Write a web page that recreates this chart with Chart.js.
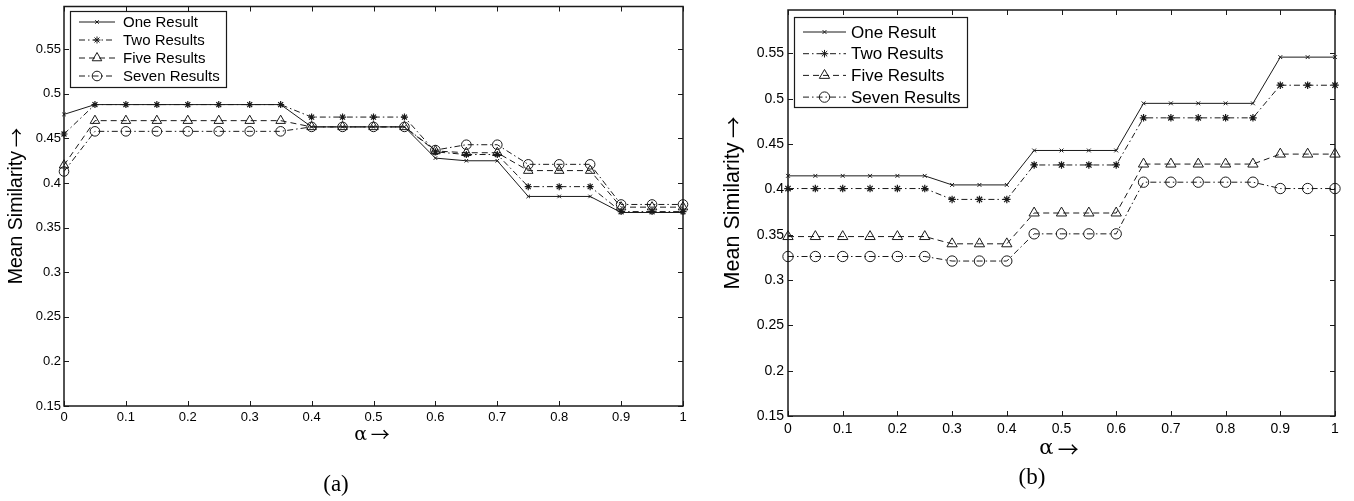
<!DOCTYPE html>
<html>
<head>
<meta charset="utf-8">
<script src="https://cdn.jsdelivr.net/npm/chart.js@4.4.0/dist/chart.umd.min.js"></script>
<style>
  body { margin: 0; background: #fff; width: 1354px; height: 501px; position: relative; overflow: hidden; }
  canvas { position: absolute; top: 0; }
  #chartA { left: 0; }
  #chartB { left: 690px; }
  .cap { position: absolute; font-family: "Liberation Serif", serif; font-size: 23px; line-height: 26px; color: #000; transform: translateX(-50%); }
</style>
</head>
<body>
<canvas id="chartA" width="690" height="501"></canvas>
<canvas id="chartB" width="664" height="501"></canvas>
<div class="cap" style="left:336px; top:471px;">(a)</div>
<div class="cap" style="left:1032px; top:464px;">(b)</div>
<script>
// alpha values on the x axis
const alpha = [0, 0.05, 0.1, 0.15, 0.2, 0.25, 0.3, 0.35, 0.4, 0.45, 0.5, 0.55, 0.6, 0.65, 0.7, 0.75, 0.8, 0.85, 0.9, 0.95, 1];
const seriesNames = ['One Result', 'Two Results', 'Five Results', 'Seven Results'];

// panel (a)
const oneA   = [0.477, 0.488, 0.488, 0.488, 0.488, 0.488, 0.488, 0.488, 0.463, 0.463, 0.463, 0.463, 0.428, 0.425, 0.425, 0.385, 0.385, 0.385, 0.367, 0.367, 0.367];
const twoA   = [0.455, 0.488, 0.488, 0.488, 0.488, 0.488, 0.488, 0.488, 0.474, 0.474, 0.474, 0.474, 0.435, 0.432, 0.432, 0.396, 0.396, 0.396, 0.368, 0.368, 0.368];
const fiveA  = [0.420, 0.470, 0.470, 0.470, 0.470, 0.470, 0.470, 0.470, 0.463, 0.463, 0.463, 0.463, 0.436, 0.434, 0.434, 0.414, 0.414, 0.414, 0.373, 0.373, 0.373];
const sevenA = [0.413, 0.458, 0.458, 0.458, 0.458, 0.458, 0.458, 0.458, 0.463, 0.463, 0.463, 0.463, 0.437, 0.443, 0.443, 0.421, 0.421, 0.421, 0.376, 0.376, 0.376];

// panel (b)
const oneB   = [0.415, 0.415, 0.415, 0.415, 0.415, 0.415, 0.405, 0.405, 0.405, 0.443, 0.443, 0.443, 0.443, 0.495, 0.495, 0.495, 0.495, 0.495, 0.546, 0.546, 0.546];
const twoB   = [0.401, 0.401, 0.401, 0.401, 0.401, 0.401, 0.389, 0.389, 0.389, 0.427, 0.427, 0.427, 0.427, 0.479, 0.479, 0.479, 0.479, 0.479, 0.515, 0.515, 0.515];
const fiveB  = [0.348, 0.348, 0.348, 0.348, 0.348, 0.348, 0.340, 0.340, 0.340, 0.374, 0.374, 0.374, 0.374, 0.428, 0.428, 0.428, 0.428, 0.428, 0.439, 0.439, 0.439];
const sevenB = [0.326, 0.326, 0.326, 0.326, 0.326, 0.326, 0.321, 0.321, 0.321, 0.351, 0.351, 0.351, 0.351, 0.408, 0.408, 0.408, 0.408, 0.408, 0.401, 0.401, 0.401];

// ticks
const xTicks = [0, 0.1, 0.2, 0.3, 0.4, 0.5, 0.6, 0.7, 0.8, 0.9, 1];
const xTickLabels = ['0', '0.1', '0.2', '0.3', '0.4', '0.5', '0.6', '0.7', '0.8', '0.9', '1'];
const yTicks = [0.15, 0.2, 0.25, 0.3, 0.35, 0.4, 0.45, 0.5, 0.55];
const yTickLabels = ['0.15', '0.2', '0.25', '0.3', '0.35', '0.4', '0.45', '0.5', '0.55'];
const yMin = 0.15, yMax = 0.598;
const xTitle = 'α →';
const yTitle = 'Mean Similarity →';

const INK = '#1a1a1a';
const SANS = '"Liberation Sans", Arial, sans-serif';
const ARROW_FONT = '"Noto Sans CJK JP", "DejaVu Sans", sans-serif'; // thin long arrow, close to the TeX one

// line / marker look of each series (matlab-ish)
const looks = [
    { dash: [], point: 'crossRot', r: 2.5, pw: 1 },
    { dash: [6, 3, 1.5, 3], point: 'star', r: 3.5, pw: 1.2 },
    { dash: [6, 4], point: 'triangle', r: 5.5, pw: 1 },
    { dash: [6, 3, 1.5, 3], point: 'circle', r: 4.8, pw: 1 }
];

const toPoints = (vals) => alpha.map((a, i) => ({ x: a, y: vals[i] }));

const makeDatasets = (series, scale) => series.map((vals, i) => ({
    label: seriesNames[i],
    data: toPoints(vals),
    borderColor: INK,
    borderWidth: 1,
    borderDash: looks[i].dash,
    pointStyle: looks[i].point,
    pointRadius: looks[i].r * scale,
    pointBorderWidth: looks[i].pw,
    pointBorderColor: INK,
    pointBackgroundColor: 'rgba(0,0,0,0)',
    tension: 0,
    fill: false,
    clip: false
}));

// box around the axes with inward ticks on all four sides
const boxPlugin = {
    id: 'matBox',
    afterDatasetsDraw(chart) {
        const { ctx, chartArea: a, scales: { x, y } } = chart;
        const t = 5;
        ctx.save();
        ctx.setLineDash([]);
        ctx.strokeStyle = INK;
        ctx.lineWidth = 1;
        ctx.beginPath();
        xTicks.forEach(v => {
            const px = Math.round(x.getPixelForValue(v)) + 0.5;
            ctx.moveTo(px, a.bottom); ctx.lineTo(px, a.bottom - t);
            ctx.moveTo(px, a.top); ctx.lineTo(px, a.top + t);
        });
        yTicks.forEach(v => {
            const py = Math.round(y.getPixelForValue(v)) + 0.5;
            ctx.moveTo(a.left, py); ctx.lineTo(a.left + t, py);
            ctx.moveTo(a.right, py); ctx.lineTo(a.right - t, py);
        });
        ctx.stroke();
        ctx.lineWidth = 1.5;
        ctx.strokeRect(a.left, a.top, a.right - a.left, a.bottom - a.top);
        ctx.restore();
    }
};

// draws "text →" with the arrow in a font that has a long arrow
function drawArrowTitle(ctx, text, font, size, cx, cy, rot) {
    const cut = text.lastIndexOf(' ');
    const word = text.slice(0, cut), arrow = text.slice(cut + 1);
    ctx.save();
    ctx.translate(cx, cy);
    ctx.rotate(rot);
    ctx.fillStyle = '#000';
    ctx.textBaseline = 'middle';
    ctx.textAlign = 'left';
    ctx.font = size + 'px ' + font;
    const w1 = ctx.measureText(word).width;
    const gap = size * 0.2;
    ctx.font = size + 'px ' + ARROW_FONT;
    const w2 = ctx.measureText(arrow).width;
    const x0 = -(w1 + gap + w2) / 2;
    ctx.font = size + 'px ' + font;
    ctx.fillText(word, x0, 0);
    ctx.font = size + 'px ' + ARROW_FONT;
    ctx.fillText(arrow, x0 + w1 + gap, 0);
    ctx.restore();
}

const titlePlugin = {
    id: 'matTitles',
    afterDraw(chart, args, o) {
        const ctx = chart.ctx;
        drawArrowTitle(ctx, xTitle, '"DejaVu Serif", serif', o.xSize, o.xX, o.xY, 0);
        drawArrowTitle(ctx, yTitle, SANS, o.ySize, o.yX, o.yY, -Math.PI / 2);
    }
};

// matlab style legend: line sample with marker in the middle
const legendPlugin = {
    id: 'matLegend',
    afterDraw(chart, args, o) {
        const ctx = chart.ctx;
        ctx.save();
        ctx.fillStyle = '#fff';
        ctx.fillRect(o.x, o.y, o.w, o.h);
        ctx.strokeStyle = INK;
        ctx.lineWidth = 1.2;
        ctx.setLineDash([]);
        ctx.strokeRect(o.x + 0.5, o.y + 0.5, o.w, o.h);
        chart.data.datasets.forEach((ds, i) => {
            const cy = o.y + o.first + i * o.rowH;
            ctx.strokeStyle = INK;
            ctx.lineWidth = 1;
            ctx.setLineDash(ds.borderDash);
            ctx.beginPath();
            ctx.moveTo(o.sx0, cy); ctx.lineTo(o.sx1, cy);
            ctx.stroke();
            ctx.setLineDash([]);
            ctx.fillStyle = ds.pointBackgroundColor;
            Chart.helpers.drawPoint(ctx, {
                pointStyle: ds.pointStyle, radius: ds.pointRadius, rotation: 0, borderWidth: ds.pointBorderWidth
            }, (o.sx0 + o.sx1) / 2, cy);
            ctx.fillStyle = '#000';
            ctx.font = o.font + 'px ' + SANS;
            ctx.textBaseline = 'middle';
            ctx.textAlign = 'left';
            ctx.fillText(ds.label, o.tx, cy + 1);
        });
        ctx.restore();
    }
};

const makeChart = (id, series, g) => new Chart(document.getElementById(id), {
    type: 'line',
    data: { datasets: makeDatasets(series, g.markScale) },
    plugins: [boxPlugin, legendPlugin, titlePlugin],
    options: {
        responsive: false,
        animation: false,
        devicePixelRatio: 1,
        layout: { padding: g.pad },
        plugins: {
            legend: { display: false },
            tooltip: { enabled: false },
            matLegend: g.legend,
            matTitles: g.titles
        },
        scales: {
            x: {
                type: 'linear', min: 0, max: 1,
                afterBuildTicks: s => { s.ticks = xTicks.map(v => ({ value: v })); },
                afterFit: s => { s.height = g.xH; s.paddingLeft = 0; s.paddingRight = 0; },
                grid: { display: false, drawTicks: false },
                border: { display: false },
                ticks: {
                    color: '#000', padding: g.xTickPad, maxRotation: 0, autoSkip: false,
                    font: { family: SANS, size: g.tickFont },
                    callback: (v) => xTickLabels[xTicks.indexOf(v)]
                }
            },
            y: {
                type: 'linear', min: yMin, max: yMax,
                afterBuildTicks: s => { s.ticks = yTicks.map(v => ({ value: v })); },
                afterFit: s => { s.width = g.yW; s.paddingTop = 0; s.paddingBottom = 0; },
                grid: { display: false, drawTicks: false },
                border: { display: false },
                ticks: {
                    color: '#000', padding: g.yTickPad,
                    font: { family: SANS, size: g.tickFont },
                    callback: (v) => yTickLabels[yTicks.indexOf(v)]
                }
            }
        }
    }
});

makeChart('chartA', [oneA, twoA, fiveA, sevenA], {
    pad: { left: 0, top: 5, right: 7, bottom: 0 },
    xH: 95, yW: 64, tickFont: 13, xTickPad: 4, yTickPad: 3,
    markScale: 1,
    titles: { xSize: 19, xX: 372, xY: 435, ySize: 19.5, yX: 17, yY: 206 },
    legend: { x: 70, y: 11, w: 156, h: 76, first: 11, rowH: 18, sx0: 79, sx1: 115, tx: 123, font: 15 }
});

makeChart('chartB', [oneB, twoB, fiveB, sevenB], {
    pad: { left: 0, top: 10, right: 19, bottom: 0 },
    xH: 85, yW: 98, tickFont: 14, xTickPad: 5, yTickPad: 4,
    markScale: 1.08,
    titles: { xSize: 21, xX: 369, xY: 449, ySize: 21.5, yX: 43, yY: 203 },
    legend: { x: 104, y: 17, w: 173, h: 90, first: 15, rowH: 21.7, sx0: 113, sx1: 156, tx: 161, font: 17 }
});
</script>
</body>
</html>
